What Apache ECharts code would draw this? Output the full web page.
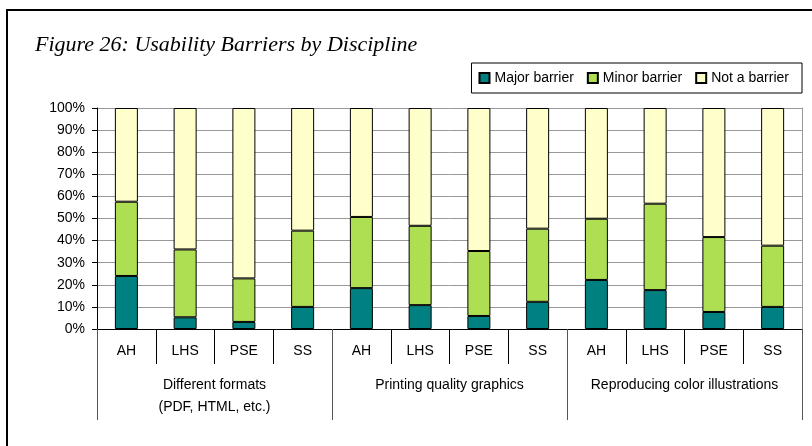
<!DOCTYPE html>
<html>
<head>
<meta charset="utf-8">
<script src="https://cdn.jsdelivr.net/npm/echarts@6/dist/echarts.min.js"></script>
<style>
  html, body { margin: 0; padding: 0; background: #fff; }
  #chart { width: 812px; height: 446px; }
</style>
</head>
<body>
<div id="chart"></div>
<script>
// disciplines repeat inside each group
var disciplines = ["AH", "LHS", "PSE", "SS", "AH", "LHS", "PSE", "SS", "AH", "LHS", "PSE", "SS"];
var groups = ["Different formats\n(PDF, HTML, etc.)", "Printing quality graphics", "Reproducing color illustrations"];
// percent of respondents
var majorBarrier = [24, 5.3, 3.2, 10, 18.5, 10.8, 5.9, 12.3, 22.2, 17.6, 7.7, 10];
var minorBarrier = [33.6, 30.7, 19.7, 34.5, 32.2, 35.9, 29.4, 33.1, 27.7, 39.1, 33.9, 27.7];
var notBarrier = [42.4, 64, 77.1, 55.5, 49.3, 53.3, 64.7, 54.6, 50.1, 43.3, 58.4, 62.3];

var chart = echarts.init(document.getElementById("chart"));
var font = "Liberation Sans, Arial, sans-serif";

function barSeries(name, data, color) {
  return {
    name: name,
    type: "bar",
    stack: "total",
    barWidth: 23,
    data: data,
    itemStyle: { color: color, borderColor: "#000", borderWidth: 1 }
  };
}

chart.setOption({
  animation: false,
  textStyle: { fontFamily: font },
  graphic: [{
    type: "polyline",
    shape: { points: [[7, 446], [7, 10], [812, 10]] },
    style: { stroke: "#000", lineWidth: 2, fill: null }
  }],
  title: {
    text: "Figure 26: Usability Barriers by Discipline",
    left: 30,
    top: 29,
    textStyle: {
      fontFamily: "Liberation Serif, serif",
      fontStyle: "italic",
      fontWeight: "normal",
      fontSize: 22,
      color: "#000"
    }
  },
  legend: {
    right: 10,
    top: 63,
    itemWidth: 10,
    itemHeight: 10,
    itemGap: 13,
    padding: [8, 13, 8, 7],
    borderColor: "#000",
    borderWidth: 1,
    icon: "rect",
    textStyle: { fontSize: 14, color: "#000", fontFamily: font },
    data: ["Major barrier", "Minor barrier", "Not a barrier"]
  },
  grid: { left: 97, right: 10, top: 108, bottom: 117 },
  xAxis: [
    {
      type: "category",
      data: disciplines,
      axisLine: { lineStyle: { color: "#000" } },
      axisTick: { show: true, interval: 0, length: 35, lineStyle: { color: "#000" } },
      axisLabel: { interval: 0, margin: 15, fontSize: 14, color: "#000", fontFamily: font }
    },
    {
      type: "category",
      data: groups,
      position: "bottom",
      axisLine: { show: false },
      axisTick: { show: true, interval: 0, length: 91, lineStyle: { color: "#555" } },
      axisLabel: { interval: 0, margin: 45, fontSize: 14, lineHeight: 22, color: "#000", fontFamily: font }
    }
  ],
  yAxis: [
    {
      type: "value",
      min: 0,
      max: 100,
      interval: 10,
      axisLine: { show: true, lineStyle: { color: "#000" } },
      axisTick: { show: true, length: 5, lineStyle: { color: "#000" } },
      axisLabel: { formatter: "{value}%", fontSize: 14, color: "#000", margin: 12, fontFamily: font },
      splitLine: { show: true, lineStyle: { color: "#999" } }
    },
    {
      type: "value",
      position: "right",
      min: 0,
      max: 100,
      interval: 10,
      axisLine: { show: true, lineStyle: { color: "#999" } },
      axisTick: { show: false },
      axisLabel: { show: false },
      splitLine: { show: false }
    }
  ],
  series: [
    barSeries("Major barrier", majorBarrier, "#008080"),
    barSeries("Minor barrier", minorBarrier, "#AEDE52"),
    barSeries("Not a barrier", notBarrier, "#FFFFCC")
  ]
});
</script>
</body>
</html>
